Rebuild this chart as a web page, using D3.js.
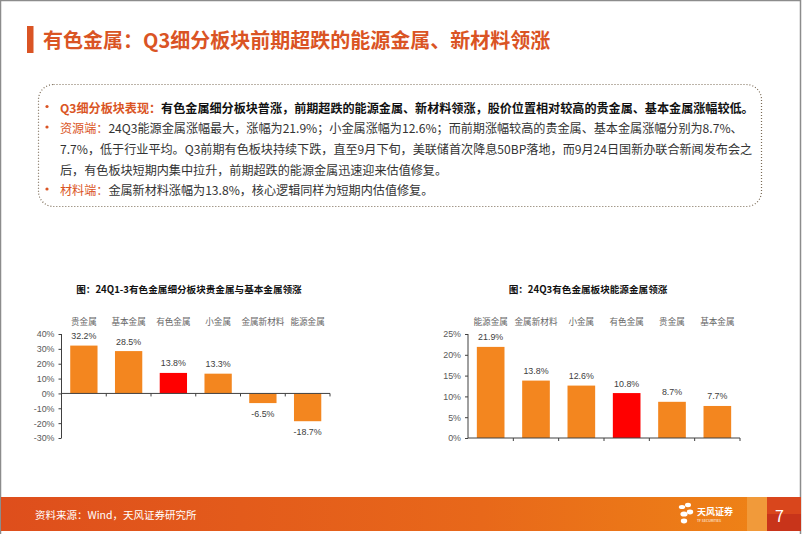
<!DOCTYPE html>
<html><head><meta charset="utf-8">
<script src="https://cdn.jsdelivr.net/npm/d3@7"></script>
<style>
html,body{margin:0;padding:0;background:#fff;}
svg{display:block;font-family:"Noto Sans CJK SC","Noto Sans",sans-serif;}
</style></head>
<body>
<svg id="c" width="802" height="534"></svg>
<script>
// ---- data ----
const pageTitle = "有色金属：Q3细分板块前期超跌的能源金属、新材料领涨";
const chart1Title = "图：24Q1-3有色金属细分板块贵金属与基本金属领涨";
const categories1 = ["贵金属","基本金属","有色金属","小金属","金属新材料","能源金属"];
const values1 = [32.2, 28.5, 13.8, 13.3, -6.5, -18.7];
const ticks1 = [40, 30, 20, 10, 0, -10, -20, -30];
const chart2Title = "图：24Q3有色金属板块能源金属领涨";
const categories2 = ["能源金属","金属新材料","小金属","有色金属","贵金属","基本金属"];
const values2 = [21.9, 13.8, 12.6, 10.8, 8.7, 7.7];
const ticks2 = [25, 20, 15, 10, 5, 0];
const highlightCategory = "有色金属";
const sourceText = "资料来源：Wind，天风证券研究所";
const pageNumber = "7";
const bulletLines = [
  [{t:"Q3细分板块表现：", c:"lab", b:true},{t:"有色金属细分板块普涨，前期超跌的能源金属、新材料领涨，股价位置相对较高的贵金属、基本金属涨幅较低。", c:"txt", b:true}],
  [{t:"资源端：", c:"lab"},{t:"24Q3能源金属涨幅最大，涨幅为21.9%；小金属涨幅为12.6%；而前期涨幅较高的贵金属、基本金属涨幅分别为8.7%、", c:"txt"}],
  [{t:"7.7%，低于行业平均。Q3前期有色板块持续下跌，直至9月下旬，美联储首次降息50BP落地，而9月24日国新办联合新闻发布会之", c:"txt"}],
  [{t:"后，有色板块短期内集中拉升，前期超跌的能源金属迅速迎来估值修复。", c:"txt"}],
  [{t:"材料端：", c:"lab"},{t:"金属新材料涨幅为13.8%，核心逻辑同样为短期内估值修复。", c:"txt"}]
];
const bulletFlags = [true, true, false, false, true];

// ---- styles ----
const ORANGE = "#F3861F", RED = "#FF0000", ACCENT = "#DA5424";
const NUMFONT = "'Liberation Sans','Noto Sans CJK SC',sans-serif";
const svg = d3.select("#c");

// page frame
svg.append("rect").attr("x",0.5).attr("y",0.5).attr("width",800).attr("height",540)
  .attr("fill","none").attr("stroke","#8c8c8c").attr("stroke-width",1.5);

// header
svg.append("rect").attr("x",27).attr("y",26).attr("width",6.5).attr("height",27).attr("fill",ACCENT);
svg.append("text").attr("x",43).attr("y",47.5).attr("font-size",20).attr("font-weight","bold")
  .attr("fill",ACCENT).text(pageTitle);

// dotted box
svg.append("rect").attr("x",38.5).attr("y",84.5).attr("width",723).attr("height",122).attr("rx",15)
  .attr("fill","none").attr("stroke","#7a6a55").attr("stroke-width",1.2).attr("stroke-dasharray","1,2");

const lineY = [106.5, 127, 148, 168.5, 189];
bulletLines.forEach((segs,i)=>{
  if (bulletFlags[i]) {
    svg.append("circle").attr("cx",47).attr("cy",lineY[i]).attr("r",1.6).attr("fill",ACCENT);
  }
  const t = svg.append("text").attr("x",60).attr("y",lineY[i]).attr("dominant-baseline","central")
    .attr("font-size",12.1);
  segs.forEach(s=>{
    t.append("tspan").text(s.t)
      .attr("fill", s.c==="lab" ? ACCENT : (s.b ? "#111" : "#333"))
      .attr("font-weight", s.b ? "bold" : "normal");
  });
});

// ---- bar chart helper ----
const pct = v => d3.format(".1f")(v).replace("\u2212","-") + "%";
function barChart(o){
  const g = svg.append("g");
  const x = d3.scaleBand().domain(o.categories).range(o.xr).paddingInner(0.39).paddingOuter(0.195);
  const y = d3.scaleLinear().domain(o.domain).range(o.yr);
  g.append("text").attr("x",o.titleX).attr("y",o.titleY).attr("text-anchor","middle")
    .attr("dominant-baseline","central").attr("font-size",9.6).attr("font-weight","bold")
    .attr("fill","#111").text(o.title);
  // category labels
  g.selectAll(".cat").data(o.categories).join("text")
    .attr("x",d=>x(d)+x.bandwidth()/2).attr("y",320.7).attr("text-anchor","middle")
    .attr("dominant-baseline","central").attr("font-size",8.6).attr("fill","#666").text(d=>d);
  // bars
  const data = o.categories.map((c,i)=>({c, v:o.values[i]}));
  g.selectAll(".bar").data(data).join("rect")
    .attr("x",d=>x(d.c)).attr("width",x.bandwidth())
    .attr("y",d=>y(Math.max(0,d.v))).attr("height",d=>Math.abs(y(d.v)-y(0)))
    .attr("fill",d=>d.c===highlightCategory?RED:ORANGE);
  // value labels
  g.selectAll(".val").data(data).join("text")
    .attr("x",d=>x(d.c)+x.bandwidth()/2)
    .attr("y",d=>d.v>=0 ? y(d.v)-9.5 : y(d.v)+10.5)
    .attr("text-anchor","middle").attr("dominant-baseline","central")
    .attr("font-family",NUMFONT)
    .attr("font-size",8.9).attr("fill","#404040").text(d=>pct(d.v));
  // y axis
  const ya = g.append("g").attr("transform",`translate(${o.xr[0]},0)`)
    .call(d3.axisLeft(y).tickValues(o.ticks).tickSize(3).tickPadding(4).tickFormat(d=>d+"%"));
  ya.select(".domain").attr("stroke","#404040").attr("d",`M-0,${o.yr[1]}V${o.yr[0]}`);
  ya.selectAll(".tick line").attr("stroke","#404040");
  ya.selectAll(".tick text").attr("font-size",8.9).attr("fill","#595959")
    .attr("font-family",NUMFONT);
  // x axis at zero
  const xa = g.append("g").attr("transform",`translate(0,${y(0)})`)
    .call(d3.axisBottom(x).tickSize(0).tickFormat(""));
  xa.select(".domain").attr("stroke","#404040").attr("d",`M${o.xr[0]},0H${o.xr[1]}`);
  xa.selectAll(".tick").remove();
  const bounds = d3.range(1, o.categories.length+1).map(i=>o.xr[0]+i*x.step());
  xa.selectAll(".bt").data(bounds).join("line")
    .attr("x1",d=>d).attr("x2",d=>d).attr("y1",0).attr("y2",3).attr("stroke","#404040");
}

barChart({categories:categories1, values:values1, domain:[-30,40], yr:[438,334], xr:[61.5,330],
  ticks:ticks1, title:chart1Title, titleX:189, titleY:288.5});
barChart({categories:categories2, values:values2, domain:[0,25], yr:[438,334], xr:[468,740],
  ticks:ticks2, title:chart2Title, titleX:588, titleY:289});

// ---- footer ----
const defs = svg.append("defs");
const gr = defs.append("linearGradient").attr("id","fg").attr("x1","0").attr("x2","1");
gr.append("stop").attr("offset","0").attr("stop-color","#DE4E1C");
gr.append("stop").attr("offset","0.6").attr("stop-color","#E8681A");
gr.append("stop").attr("offset","1").attr("stop-color","#EF8616");
svg.append("rect").attr("x",1).attr("y",497).attr("width",800).attr("height",34).attr("fill","url(#fg)");
svg.append("rect").attr("x",747).attr("y",497).attr("width",20).attr("height",34).attr("fill","#F19A3A");
svg.append("rect").attr("x",767).attr("y",497).attr("width",34).attr("height",34).attr("fill","#D9461C");
svg.append("rect").attr("x",767).attr("y",514).attr("width",34).attr("height",17).attr("fill","#C8341A");
svg.append("text").attr("x",35).attr("y",514.5).attr("dominant-baseline","central")
  .attr("font-size",10.5).attr("fill","#fff").text(sourceText);
svg.append("text").attr("x",775).attr("y",515).attr("dominant-baseline","central")
  .attr("font-size",16).attr("fill","#fff").text(pageNumber);
// logo
const lg = svg.append("g").attr("fill","#fff");
[[682,507,3.2,2],[688,505,3,2.2],[684,514,3.6,2.6],[690,512,3.2,2.4],[684,521,3.2,2.4]].forEach(p=>{
  lg.append("ellipse").attr("cx",p[0]).attr("cy",p[1]).attr("rx",p[2]).attr("ry",p[3]);
});
lg.append("text").attr("x",697).attr("y",511).attr("dominant-baseline","central")
  .attr("font-size",9).attr("font-weight","bold").text("天风证券");
lg.append("text").attr("x",697).attr("y",520).attr("dominant-baseline","central")
  .attr("font-size",3.5).text("TF SECURITIES");
</script>
</body></html>
